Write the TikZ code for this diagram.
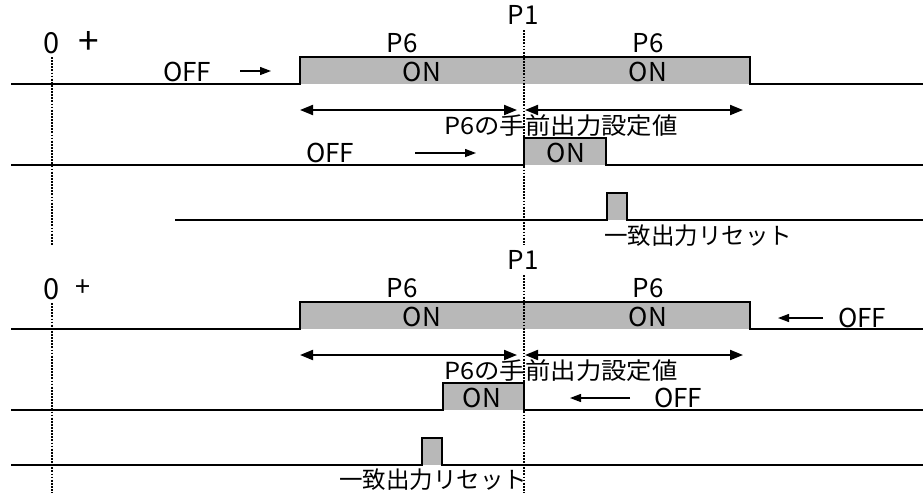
\documentclass[tikz,border=0pt]{standalone}
\usepackage{fontspec}
\setmainfont{Noto Sans CJK JP}
\usetikzlibrary{arrows.meta}
\definecolor{onshade}{gray}{0.72}
\begin{document}
\begin{tikzpicture}[x=1pt,y=-1pt,
  sig/.style={line width=2.2pt, line join=miter},
  onbox/.style={fill=onshade},
  tmark/.style={line width=1.6pt, dash pattern=on 1.8pt off 1.3pt},
  dim/.style={line width=2pt, {Triangle[length=13pt,width=10pt]}-{Triangle[length=13pt,width=10pt]}},
  offarr/.style={line width=1.3pt, -{Triangle[length=11pt,width=8pt]}},
  txt/.style={inner sep=0, font=\fontsize{26}{26}\selectfont},
  zero/.style={inner sep=0, font=\fontsize{29}{29}\selectfont},
  jtxt/.style={inner sep=0, font=\fontsize{23.5}{23.5}\selectfont}]
\useasboundingbox (0,0) rectangle (923,493);
% ---------------- upper diagram ----------------
\path[onbox] (300,57) rectangle (750,84);
\path[onbox] (524,138) rectangle (606,165);
\path[onbox] (607,193) rectangle (627,220);
\draw[sig] (11,84) -- (300,84) -- (300,57) -- (750,57) -- (750,84) -- (923,84);
\draw[sig] (11,165) -- (524,165) -- (524,138) -- (606,138) -- (606,165) -- (923,165);
\draw[sig] (175,220) -- (607,220) -- (607,193) -- (627,193) -- (627,220) -- (923,220);
\draw[tmark] (52,57) -- (52,245);
\draw[tmark] (524,30) -- (524,245);
\node[zero] (zA) at (52,43) {0};
\node[inner sep=0, font=\fontsize{37}{37}\selectfont] (plA) at (89,43) {+};
\node[txt] (p1A) at (523,15) {P1};
\node[txt] (p6A1) at (402,43) {P6};
\node[txt] (p6A2) at (648,43) {P6};
\node[txt] (onA1) at (422,72) {ON};
\node[txt] (onA2) at (648,72) {ON};
\node[txt] (offA1) at (187,72) {OFF};
\coordinate (oa1s) at (240,71); \coordinate (oa1e) at (271,71);
\draw[offarr] (oa1s) -- (oa1e);
\coordinate (dA1) at (300,110); \coordinate (dA2) at (517,110);
\coordinate (dA3) at (525,110); \coordinate (dA4) at (743,110);
\draw[dim] (dA1) -- (dA2);
\draw[dim] (dA3) -- (dA4);
\node[jtxt] (lblA) at (561,126) {\scalebox{1.08}[1]{P6の手前出力設定値}};
\node[txt] (onA3) at (566,153) {ON};
\node[txt] (offA2) at (330,153) {OFF};
\coordinate (oa2s) at (415,153); \coordinate (oa2e) at (476,153);
\draw[offarr] (oa2s) -- (oa2e);
\node[jtxt] (rstA) at (698,236) {一致出力リセット};
% ---------------- lower diagram ----------------
\path[onbox] (300,302) rectangle (750,329);
\path[onbox] (443,383) rectangle (524,410);
\path[onbox] (422,438) rectangle (442,465);
\draw[sig] (11,329) -- (300,329) -- (300,302) -- (750,302) -- (750,329) -- (923,329);
\draw[sig] (11,410) -- (443,410) -- (443,383) -- (524,383) -- (524,410) -- (923,410);
\draw[sig] (11,465) -- (422,465) -- (422,438) -- (442,438) -- (442,465) -- (923,465);
\draw[tmark] (52,303) -- (52,493);
\draw[tmark] (524,275) -- (524,493);
\node[zero] (zB) at (52,289) {0};
\node[txt, font=\fontsize{27}{27}\selectfont] (plB) at (83,288) {+};
\node[txt] (p1B) at (523,260) {P1};
\node[txt] (p6B1) at (402,288) {P6};
\node[txt] (p6B2) at (648,288) {P6};
\node[txt] (onB1) at (422,317) {ON};
\node[txt] (onB2) at (648,317) {ON};
\node[txt] (offB1) at (862,318) {OFF};
\coordinate (ob1s) at (823,318); \coordinate (ob1e) at (778,318);
\draw[offarr] (ob1s) -- (ob1e);
\coordinate (dB1) at (300,355); \coordinate (dB2) at (517,355);
\coordinate (dB3) at (525,355); \coordinate (dB4) at (743,355);
\draw[dim] (dB1) -- (dB2);
\draw[dim] (dB3) -- (dB4);
\node[jtxt] (lblB) at (561,371) {\scalebox{1.08}[1]{P6の手前出力設定値}};
\node[txt] (onB3) at (482,398) {ON};
\node[txt] (offB2) at (678,398) {OFF};
\coordinate (ob2s) at (630,398); \coordinate (ob2e) at (570,398);
\draw[offarr] (ob2s) -- (ob2e);
\node[jtxt] (rstB) at (433,480) {一致出力リセット};
\end{tikzpicture}
\end{document}
